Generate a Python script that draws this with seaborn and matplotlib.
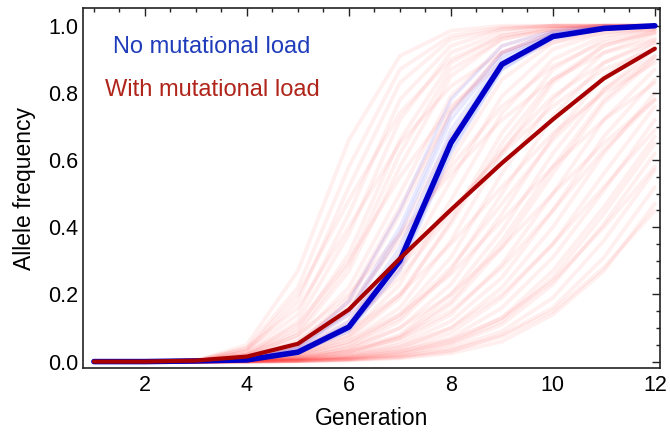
import numpy as np
import pandas as pd
import matplotlib
matplotlib.use('Agg')
import matplotlib.pyplot as plt
import seaborn as sns
from matplotlib.ticker import MultipleLocator

# 数据：世代与等位基因频率
generations = [1, 2, 3, 4, 5, 6, 7, 8, 9, 10, 11, 12]

# 两条平均曲线（粗线）
no_load_mean = [0, 0, 0.002, 0.005, 0.028, 0.103, 0.30, 0.651, 0.885, 0.968, 0.992, 1.0]
with_load_mean = [0, 0, 0.003, 0.015, 0.053, 0.155, 0.307, 0.452, 0.591, 0.721, 0.843, 0.932]

# 有突变负荷的重复（浅红色细线）
with_load_reps = [
    [0, 0, 0.002, 0.05, 0.27, 0.66, 0.91, 0.985, 1, 1, 1, 1],
    [0, 0, 0.002, 0.04, 0.22, 0.58, 0.87, 0.97, 0.995, 1, 1, 1],
    [0, 0, 0.001, 0.03, 0.18, 0.52, 0.83, 0.96, 0.99, 1, 1, 1],
    [0, 0, 0.001, 0.03, 0.14, 0.44, 0.78, 0.94, 0.99, 1, 1, 1],
    [0, 0, 0.001, 0.02, 0.12, 0.38, 0.72, 0.92, 0.98, 1, 1, 1],
    [0, 0, 0.001, 0.02, 0.10, 0.32, 0.66, 0.89, 0.97, 0.995, 1, 1],
    [0, 0, 0.001, 0.015, 0.08, 0.27, 0.58, 0.85, 0.96, 0.99, 1, 1],
    [0, 0, 0.001, 0.015, 0.07, 0.22, 0.50, 0.79, 0.94, 0.985, 1, 1],
    [0, 0, 0, 0.01, 0.05, 0.18, 0.44, 0.74, 0.92, 0.98, 0.995, 1],
    [0, 0, 0, 0.01, 0.045, 0.15, 0.38, 0.67, 0.88, 0.97, 0.99, 1],
    [0, 0, 0, 0.01, 0.04, 0.12, 0.32, 0.60, 0.84, 0.95, 0.99, 1],
    [0, 0, 0, 0.008, 0.03, 0.10, 0.27, 0.54, 0.79, 0.93, 0.98, 0.995],
    [0, 0, 0, 0.006, 0.025, 0.08, 0.23, 0.48, 0.74, 0.90, 0.97, 0.99],
    [0, 0, 0, 0.005, 0.02, 0.07, 0.19, 0.42, 0.68, 0.87, 0.96, 0.99],
    [0, 0, 0, 0.005, 0.018, 0.06, 0.16, 0.36, 0.62, 0.83, 0.94, 0.985],
    [0, 0, 0, 0.004, 0.015, 0.05, 0.14, 0.31, 0.56, 0.78, 0.92, 0.975],
    [0, 0, 0, 0.003, 0.012, 0.04, 0.12, 0.27, 0.50, 0.73, 0.89, 0.96],
    [0, 0, 0, 0.003, 0.01, 0.035, 0.10, 0.23, 0.44, 0.67, 0.85, 0.95],
    [0, 0, 0, 0.002, 0.008, 0.03, 0.08, 0.20, 0.39, 0.62, 0.81, 0.93],
    [0, 0, 0, 0.002, 0.007, 0.025, 0.07, 0.17, 0.34, 0.56, 0.77, 0.90],
    [0, 0, 0, 0.002, 0.006, 0.02, 0.06, 0.14, 0.29, 0.50, 0.72, 0.87],
    [0, 0, 0, 0.001, 0.005, 0.018, 0.05, 0.12, 0.25, 0.45, 0.67, 0.84],
    [0, 0, 0, 0.001, 0.004, 0.015, 0.04, 0.10, 0.22, 0.40, 0.62, 0.80],
    [0, 0, 0, 0.001, 0.004, 0.012, 0.035, 0.085, 0.19, 0.35, 0.56, 0.76],
    [0, 0, 0, 0.001, 0.003, 0.01, 0.03, 0.07, 0.16, 0.31, 0.51, 0.72],
    [0, 0, 0, 0.001, 0.003, 0.008, 0.025, 0.06, 0.13, 0.27, 0.46, 0.67],
    [0, 0, 0, 0, 0.002, 0.007, 0.02, 0.05, 0.11, 0.23, 0.41, 0.62],
    [0, 0, 0, 0, 0.002, 0.006, 0.015, 0.04, 0.09, 0.19, 0.36, 0.57],
    [0, 0, 0, 0, 0.001, 0.005, 0.012, 0.03, 0.08, 0.16, 0.31, 0.52],
    [0, 0, 0, 0, 0.001, 0.004, 0.01, 0.025, 0.06, 0.14, 0.27, 0.47],
    [0, 0, 0.001, 0.02, 0.08, 0.20, 0.38, 0.56, 0.72, 0.84, 0.92, 0.96],
    [0, 0, 0.001, 0.01, 0.05, 0.14, 0.28, 0.45, 0.62, 0.76, 0.87, 0.93],
    [0, 0, 0, 0.005, 0.03, 0.09, 0.20, 0.35, 0.52, 0.68, 0.80, 0.89],
    [0, 0, 0, 0.003, 0.02, 0.06, 0.14, 0.26, 0.42, 0.58, 0.72, 0.83],
    [0, 0, 0, 0.002, 0.01, 0.04, 0.10, 0.20, 0.34, 0.50, 0.65, 0.78],
    [0, 0, 0.002, 0.04, 0.16, 0.40, 0.65, 0.82, 0.92, 0.97, 0.99, 1],
    [0, 0, 0.002, 0.035, 0.20, 0.48, 0.74, 0.90, 0.97, 0.99, 1, 1],
    [0, 0, 0.001, 0.025, 0.11, 0.30, 0.55, 0.76, 0.89, 0.95, 0.98, 0.99],
    [0, 0, 0.001, 0.012, 0.06, 0.17, 0.36, 0.58, 0.76, 0.88, 0.95, 0.98],
    [0, 0, 0, 0.008, 0.035, 0.11, 0.25, 0.44, 0.63, 0.79, 0.89, 0.95],
    [0, 0, 0, 0.004, 0.016, 0.05, 0.13, 0.28, 0.47, 0.66, 0.81, 0.91],
    [0, 0, 0, 0.003, 0.012, 0.03, 0.07, 0.15, 0.28, 0.45, 0.63, 0.78],
    [0, 0, 0, 0.002, 0.006, 0.017, 0.045, 0.10, 0.20, 0.35, 0.52, 0.69],
    [0, 0, 0, 0.001, 0.004, 0.012, 0.03, 0.065, 0.13, 0.24, 0.40, 0.58],
    [0, 0, 0, 0, 0.002, 0.006, 0.015, 0.035, 0.075, 0.15, 0.28, 0.45],
    [0, 0, 0, 0, 0.002, 0.008, 0.022, 0.055, 0.12, 0.25, 0.44, 0.65],
    [0, 0, 0, 0.002, 0.009, 0.028, 0.075, 0.18, 0.36, 0.58, 0.78, 0.91],
    [0, 0, 0, 0.006, 0.024, 0.075, 0.20, 0.41, 0.65, 0.84, 0.94, 0.98],
    [0, 0, 0.001, 0.012, 0.055, 0.19, 0.46, 0.75, 0.92, 0.98, 0.995, 1],
    [0, 0, 0.001, 0.02, 0.09, 0.29, 0.62, 0.87, 0.96, 0.99, 1, 1],
]

# 无突变负荷的重复（浅蓝色细线）
no_load_reps = [
    [0, 0, 0.002, 0.006, 0.03, 0.11, 0.32, 0.67, 0.89, 0.97, 0.99, 1],
    [0, 0, 0.002, 0.005, 0.026, 0.095, 0.28, 0.63, 0.87, 0.965, 0.99, 1],
    [0, 0, 0.002, 0.006, 0.032, 0.12, 0.34, 0.69, 0.90, 0.975, 0.995, 1],
    [0, 0, 0.002, 0.005, 0.025, 0.09, 0.27, 0.62, 0.87, 0.96, 0.99, 1],
    [0, 0, 0.002, 0.007, 0.04, 0.15, 0.40, 0.74, 0.92, 0.98, 0.995, 1],
    [0, 0, 0.002, 0.008, 0.045, 0.18, 0.45, 0.78, 0.94, 0.985, 1, 1],
    [0, 0, 0.002, 0.007, 0.038, 0.14, 0.38, 0.72, 0.91, 0.975, 0.995, 1],
    [0, 0, 0.002, 0.006, 0.03, 0.10, 0.31, 0.66, 0.89, 0.97, 0.99, 1],
]


def to_long(reps):
    rows = []
    for i, rep in enumerate(reps):
        for g, v in zip(generations, rep):
            rows.append({'rep': i, 'gen': g, 'freq': v})
    return pd.DataFrame(rows)


red_df = to_long(with_load_reps)
blue_df = to_long(no_load_reps)
mean_df = pd.DataFrame({'gen': generations, 'no_load': no_load_mean, 'with_load': with_load_mean})

sns.set_style('white')
plt.rcParams['font.family'] = ['Liberation Sans', 'DejaVu Sans']
plt.rcParams['text.color'] = 'black'
plt.rcParams['axes.labelcolor'] = 'black'
plt.rcParams['xtick.labelcolor'] = 'black'
plt.rcParams['ytick.labelcolor'] = 'black'

fig = plt.figure(figsize=(6.7, 4.37), dpi=100)
ax = fig.add_axes([0.1234, 0.1572, 0.8616, 0.8238])

# 浅色重复线
sns.lineplot(data=red_df, x='gen', y='freq', units='rep', estimator=None,
             color='#ff1a1a', alpha=0.065, lw=2.8, ax=ax)
sns.lineplot(data=blue_df, x='gen', y='freq', units='rep', estimator=None,
             color='#2030ff', alpha=0.1, lw=2.4, ax=ax)

# 平均线
sns.lineplot(data=mean_df, x='gen', y='no_load', color='#0000c8', lw=4.0, ax=ax)
sns.lineplot(data=mean_df, x='gen', y='with_load', color='#a80000', lw=3.0, ax=ax)

ax.text(1.38, 0.918, 'No mutational load', color='#1f3cbb', fontsize=17, ha='left', va='baseline')
ax.text(1.22, 0.791, 'With mutational load', color='#b0241a', fontsize=17, ha='left', va='baseline')

ax.set_xlim(0.78, 12.1)
ax.set_ylim(-0.02, 1.052)
ax.xaxis.set_major_locator(MultipleLocator(2))
ax.xaxis.set_minor_locator(MultipleLocator(0.5))
ax.yaxis.set_major_locator(MultipleLocator(0.2))
ax.yaxis.set_minor_locator(MultipleLocator(0.05))
ax.yaxis.set_major_formatter(matplotlib.ticker.FormatStrFormatter('%.1f'))
ax.tick_params(which='both', direction='in', top=True, right=True, color='#222222', width=1)
ax.tick_params(which='major', length=6, labelsize=15.5, pad=5)
ax.tick_params(which='minor', length=3)
ax.tick_params(axis='y', which='major', pad=3)

for s in ax.spines.values():
    s.set_visible(True)
    s.set_color('#222222')
    s.set_linewidth(1.2)

ax.set_xlabel('Generation', fontsize=16.5, labelpad=8)
ax.set_ylabel('Allele frequency', fontsize=16.5, labelpad=9)

fig.savefig('out.png', dpi=100)
